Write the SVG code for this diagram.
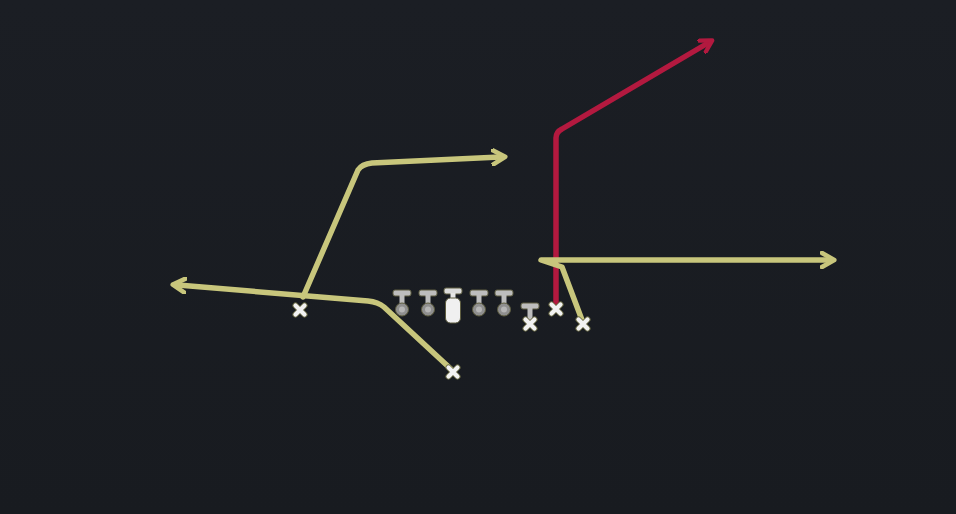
<svg xmlns="http://www.w3.org/2000/svg" width="956" height="514" viewBox="0 0 956 514">
<defs>
<linearGradient id="bg" x1="0" y1="0" x2="0" y2="1">
<stop offset="0" stop-color="#1b1e24"/>
<stop offset="1" stop-color="#181b20"/>
</linearGradient>
<marker id="ay" viewBox="0 0 10 10" refX="5" refY="5" markerWidth="3.2" markerHeight="3.2" orient="auto" markerUnits="strokeWidth">
<path d="M1,1 L8,5 L1,9" fill="none" stroke="#c8c67c" stroke-width="2.6" stroke-linecap="round" stroke-linejoin="round"/>
</marker>
<marker id="ar" viewBox="0 0 10 10" refX="5" refY="5" markerWidth="3" markerHeight="3" orient="auto" markerUnits="strokeWidth">
<path d="M1,1 L8,5 L1,9" fill="none" stroke="#b3193f" stroke-width="2.6" stroke-linecap="round" stroke-linejoin="round"/>
</marker>
<g id="x">
<path d="M-4.5,-4.5 L4.5,4.5 M4.5,-4.5 L-4.5,4.5" stroke="#6a6a45" stroke-width="6" stroke-linecap="round"/>
<path d="M-4.5,-4.5 L4.5,4.5 M4.5,-4.5 L-4.5,4.5" stroke="#f2f2f2" stroke-width="4.2" stroke-linecap="round"/>
</g>
<g id="t">
<rect x="-9" y="-3" width="18" height="6" rx="2" fill="#bdbdbd" stroke="#5e5d40" stroke-width="1"/>
<rect x="-2.5" y="2" width="5" height="12" fill="#bdbdbd"/>
</g>
<g id="lm">
<use href="#t"/>
<circle cx="0" cy="16.5" r="6.5" fill="#8f8f8f" stroke="#5e5d40" stroke-width="1"/>
<circle cx="0" cy="16.5" r="3" fill="#b5b5b5"/>
</g>
</defs>
<style>
.y{fill:none;stroke:#c8c67c;stroke-width:5.5;stroke-linecap:round;stroke-linejoin:round}
.r{fill:none;stroke:#b3193f;stroke-width:5.5;stroke-linecap:round;stroke-linejoin:round}
</style>
<rect width="956" height="514" fill="url(#bg)"/>
<g id="connectors">
<path class="y" d="M452,370 L384,307 Q378,302 368,301 L178,285" marker-end="url(#ay)"/>
<path class="y" d="M303,297 L358,170 Q362,164 372,163 L500,157" marker-end="url(#ay)"/>
<path class="r" d="M556,304 L556,138 Q556,132 562,129 L708,43" marker-end="url(#ar)"/>
<path class="y" d="M582,320 L562,267 L541,260 L829,260" marker-end="url(#ay)"/>
</g>
<g id="lt"><use href="#lm" x="402" y="293"/></g>
<g id="lg"><use href="#lm" x="428" y="293"/></g>
<g id="c">
<rect x="444" y="288" width="18" height="6" rx="2" fill="#dcdcdc" stroke="#5e5d40" stroke-width="1"/>
<rect x="450.5" y="293" width="5" height="6" fill="#e6e6e6"/>
<rect x="445.5" y="298" width="15" height="25" rx="5" fill="#f0f0f0" stroke="#5e5d40" stroke-width="1"/>
</g>
<g id="rg"><use href="#lm" x="479" y="293"/></g>
<g id="rt"><use href="#lm" x="504" y="293"/></g>
<g id="te"><use href="#t" x="530" y="306"/><use href="#x" x="530" y="324"/></g>
<g id="p1"><use href="#x" x="300" y="310"/></g>
<g id="p2"><use href="#x" x="453" y="372"/></g>
<g id="p3"><use href="#x" x="556" y="309"/></g>
<g id="p4"><use href="#x" x="583" y="324"/></g>
</svg>
